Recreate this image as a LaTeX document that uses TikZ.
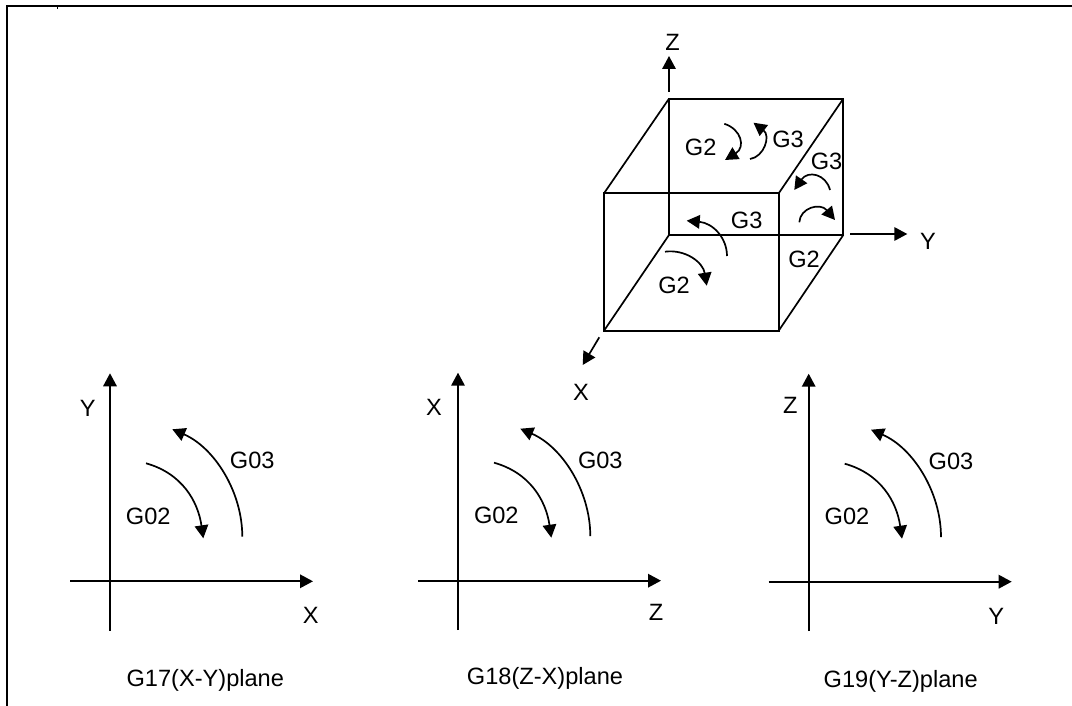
\documentclass[tikz,border=0pt]{standalone}
\usepackage{fontspec}
\setmainfont{Liberation Sans}
\usetikzlibrary{arrows.meta}
\tikzset{
  line/.style={line width=1.7pt,black},
  frameline/.style={line width=2pt,black},
  arr/.style={line width=1.7pt,black,-{Triangle[length=13pt,width=13.5pt]}},
  arc arr/.style={line width=1.7pt,black,-{Triangle[length=13pt,width=13.5pt]}},
  lbl/.style={font=\fontsize{23.6}{26}\selectfont,inner sep=0pt,text=black},
}
\newcommand{\planepanel}[9]{%
  \begin{scope}[shift={(#2,#3)}]
    \coordinate (#1o) at (0,0);
    \coordinate (#1vb) at (0,49.4);
    \coordinate (#1vt) at (0,-208);
    \coordinate (#1hl) at (-40,0);
    \coordinate (#1hr) at (203,0);
    \draw[arr] (#1vb) -- (#1vt);
    \draw[arr] (#1hl) -- (#1hr);
    \coordinate (#1a) at (132.3,-44.6);
    \coordinate (#1b) at (62.3,-152);
    \coordinate (#1c) at (36,-118);
    \coordinate (#1d) at (93.3,-43);
    \draw[arc arr] (#1a) .. controls (132.3,-90) and (104,-134) .. (#1b);
    \draw[arc arr] (#1c) .. controls (72,-108) and (88,-80) .. (#1d);
    \node[lbl] (#1g3) at (142.3,-120.5) {G03};
    \node[lbl] (#1g2) at (38.3,-65.3) {G02};
    \node[lbl] (#1v) at (#4,#5) {#8};
    \node[lbl] (#1h) at (#6,#7) {#9};
  \end{scope}}
\begin{document}
\begin{tikzpicture}[x=1pt,y=-1pt]
\useasboundingbox (0,0) rectangle (1072,706);
% frame
\coordinate (fb) at (6.8,706);
\coordinate (fc) at (6.8,5.8);
\coordinate (fr) at (1072,5.8);
\draw[frameline,line cap=butt,line join=miter] (fb) -- (fc) -- (fr);
\coordinate (t1) at (57,6);
\coordinate (t2) at (57,9);
\draw[line width=0.8pt] (t1) -- (t2);
% cube
\coordinate (btl) at (669,98.7);
\coordinate (btr) at (843.3,98.7);
\coordinate (ftl) at (604,193.3);
\coordinate (ftr) at (778.7,193.3);
\coordinate (fbl) at (604,330.7);
\coordinate (fbr) at (778.7,330.7);
\coordinate (bbl) at (669,235);
\coordinate (bbr) at (843.3,235);
\draw[line] (ftl) -- (ftr) -- (fbr) -- (fbl) -- cycle;
\draw[line] (btl) -- (btr) -- (bbr) -- (bbl) -- cycle;
\draw[line] (ftl) -- (btl) (ftr) -- (btr) (fbl) -- (bbl) (fbr) -- (bbr);
% cube axes
\coordinate (za) at (669,91.7);
\coordinate (zb) at (669,56);
\coordinate (ya) at (850,234);
\coordinate (yb) at (907.3,234);
\coordinate (xa) at (599.3,337.3);
\coordinate (xb) at (582.7,365);
\draw[arr] (za) -- (zb);
\draw[arr] (ya) -- (yb);
\draw[arr] (xa) -- (xb);
\node[lbl] (zl) at (672.7,42) {Z};
\node[lbl] (yl) at (928,241.7) {Y};
\node[lbl] (xl) at (581,392) {X};
% cube labels
\node[lbl] (g2a) at (700.7,147.7) {G2};
\node[lbl] (g3a) at (788,139) {G3};
\node[lbl] (g3b) at (826.5,161) {G3};
\node[lbl] (g3c) at (746.7,220.7) {G3};
\node[lbl] (g2b) at (804,259) {G2};
\node[lbl] (g2c) at (674,285.7) {G2};
% cube arcs
\coordinate (a1) at (724.3,123.8); \coordinate (a2) at (725,160);
\draw[arc arr] (a1) .. controls (741,129) and (746,147) .. (a2);
\coordinate (b1) at (750,159); \coordinate (b2) at (753.5,122.7);
\draw[arc arr] (b1) .. controls (764,157) and (771,136) .. (b2);
\coordinate (c1) at (830,190); \coordinate (c2) at (794.3,190);
\draw[arc arr] (c1) .. controls (826,174) and (808,170) .. (c2);
\coordinate (d1) at (799.3,222.3); \coordinate (d2) at (835,220);
\draw[arc arr] (d1) .. controls (800,208) and (820,202) .. (d2);
\coordinate (e1) at (727,256); \coordinate (e2) at (686.7,220.7);
\draw[arc arr] (e1) .. controls (727,238) and (713,223) .. (e2);
\coordinate (f1) at (665,251.7); \coordinate (f2) at (706.7,285.7);
\draw[arc arr] (f1) .. controls (685,249) and (703,262) .. (f2);
% panels
\planepanel{p}{110}{581.3}{-22.3}{-173.3}{200.7}{34.4}{Y}{X}
\planepanel{q}{458}{580.7}{-24}{-173}{198}{31.6}{X}{Z}
\planepanel{r}{808.7}{581.7}{-18.4}{-176}{187.6}{35}{Z}{Y}
\node[lbl] (cap1) at (205.3,680) {G17(X-Y)plane};
\node[lbl] (cap2) at (545,678.3) {G18(Z-X)plane};
\node[lbl] (cap3) at (900.7,681.7) {G19(Y-Z)plane};
\end{tikzpicture}
\end{document}
